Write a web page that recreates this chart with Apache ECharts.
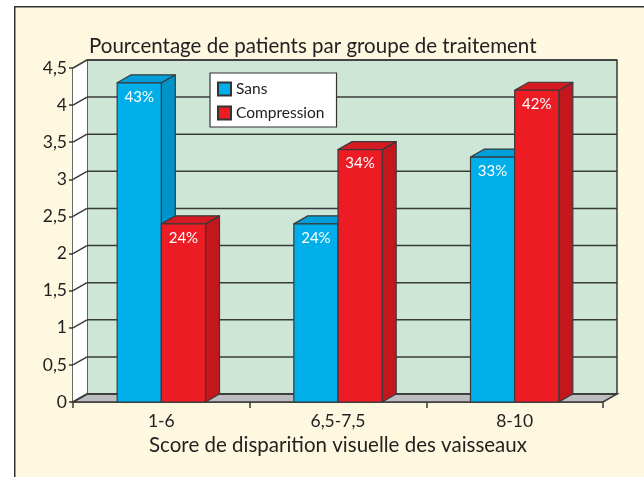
<!DOCTYPE html>
<html><head><meta charset="utf-8">
<script src="https://cdn.jsdelivr.net/npm/echarts@6/dist/echarts.min.js"></script>
<style>html,body{margin:0;padding:0;background:#fff;}#c{width:644px;height:477px;}</style>
</head><body><div id="c"></div>
<script>
const categories = ['1-6', '6,5-7,5', '8-10'];
const sansValues = [4.3, 2.4, 3.3];
const compressionValues = [2.4, 3.4, 4.2];
const sansLabels = ['43%', '24%', '33%'];
const compressionLabels = ['24%', '34%', '42%'];
const yTicks = [0, 0.5, 1, 1.5, 2, 2.5, 3, 3.5, 4, 4.5];
const titleText = 'Pourcentage de patients par groupe de traitement';
const xAxisTitle = 'Score de disparition visuelle des vaisseaux';

const DX = 14, DY = -8;
const FONT = 'Lato';
const LINE = '#3a3a3a';

function barRenderer(side, colors, labels) {
  return function (params, api) {
    const ci = api.value(0), v = api.value(1);
    const top = api.coord([ci, v]);
    const base = api.coord([ci, 0]);
    const band = api.size([1, 0])[0];
    const w = band * 0.25;
    const x1 = side < 0 ? top[0] - w : top[0];
    const x2 = x1 + w;
    const yt = top[1], yb = base[1];
    const st = { stroke: LINE, lineWidth: 1.2, lineJoin: 'round' };
    return {
      type: 'group',
      children: [
        { type: 'polygon', shape: { points: [[x2, yt], [x2 + DX, yt + DY], [x2 + DX, yb + DY], [x2, yb]] },
          style: Object.assign({ fill: colors.side }, st) },
        { type: 'polygon', shape: { points: [[x1, yt], [x1 + DX, yt + DY], [x2 + DX, yt + DY], [x2, yt]] },
          style: Object.assign({ fill: colors.top }, st) },
        { type: 'rect', shape: { x: x1, y: yt, width: w, height: yb - yt },
          style: Object.assign({ fill: colors.front }, st) },
        { type: 'text', x: x1 + w / 2, y: yt + 14,
          style: { text: labels[params.dataIndex], fill: '#fff', font: '15px ' + FONT,
                   align: 'center', verticalAlign: 'middle' } }
      ]
    };
  };
}

function frameRenderer(params, api) {
  const c0 = api.coord([0, 0]);
  const band = api.size([1, 0])[0];
  const xL = c0[0] - band / 2;
  const xR = xL + band * categories.length;
  const y0 = c0[1];
  const yMax = api.coord([0, yTicks[yTicks.length - 1]])[1];
  const children = [
    { type: 'rect', shape: { x: xL + DX, y: yMax + DY, width: xR - xL, height: y0 - yMax },
      style: { fill: '#cde6d6', stroke: LINE, lineWidth: 1.5 } },
    { type: 'polygon', shape: { points: [[xL, yMax], [xL + DX, yMax + DY], [xL + DX, y0 + DY], [xL, y0]] },
      style: { fill: '#ffffff', stroke: null } },
    { type: 'polygon', shape: { points: [[xL, y0], [xL + DX, y0 + DY], [xR + DX, y0 + DY], [xR, y0]] },
      style: { fill: '#bcbdc1', stroke: LINE, lineWidth: 1.5 } }
  ];
  yTicks.forEach(function (v) {
    const y = api.coord([0, v])[1];
    children.push({ type: 'line', shape: { x1: xL + DX, y1: y + DY, x2: xR + DX, y2: y + DY },
      style: { stroke: LINE, lineWidth: 1.5 } });
    children.push({ type: 'line', shape: { x1: xL, y1: y, x2: xL + DX, y2: y + DY },
      style: { stroke: LINE, lineWidth: 1.5 } });
  });
  return { type: 'group', children: children };
}

const chart = echarts.init(document.getElementById('c'), null, { renderer: 'canvas' });
const sansColors = { front: '#00aeea', side: '#0093c9', top: '#009fd9' };
const compColors = { front: '#ed1c24', side: '#c3171d', top: '#d61a21' };

chart.setOption({
  animation: false,
  backgroundColor: '#ffffff',
  graphic: [{
    type: 'rect', left: 14, top: 6, shape: { width: 700, height: 600 },
    style: { fill: '#fff8e1', stroke: '#333', lineWidth: 1.5 }, z: -10
  }],
  title: {
    text: titleText, left: 84, top: 31,
    textStyle: { fontFamily: FONT, fontSize: 20.5, fontWeight: 'normal', color: '#222' }
  },
  legend: {
    orient: 'vertical', left: 210, top: 73,
    backgroundColor: '#ffffff', borderColor: '#333', borderWidth: 1.2,
    padding: [8, 12, 6, 7], itemGap: 8, itemWidth: 13, itemHeight: 13,
    icon: 'rect',
    textStyle: { fontFamily: FONT, fontSize: 15.5, color: '#222' },
    data: ['Sans', 'Compression']
  },
  grid: { left: 73, right: 41, top: 68, bottom: 75 },
  xAxis: {
    type: 'category', data: categories,
    axisLine: { lineStyle: { color: LINE, width: 1.5 } },
    axisTick: { show: true, length: 6, alignWithLabel: false, lineStyle: { color: LINE, width: 1.5 } },
    axisLabel: { fontFamily: FONT, fontSize: 17.5, color: '#222', margin: 10 },
    name: xAxisTitle, nameLocation: 'middle', nameGap: 33,
    nameTextStyle: { fontFamily: FONT, fontSize: 20.5, color: '#222' },
    splitLine: { show: false }
  },
  yAxis: {
    type: 'value', min: 0, max: 4.5, interval: 0.5,
    axisLine: { show: true, lineStyle: { color: LINE, width: 1.5 } },
    axisTick: { show: true, length: 4, lineStyle: { color: LINE, width: 1.5 } },
    axisLabel: { fontFamily: FONT, fontSize: 17.5, color: '#222', margin: 6,
      formatter: function (v) { return String(v).replace('.', ','); } },
    splitLine: { show: false }
  },
  series: [
    { type: 'custom', name: 'frame', silent: true, clip: false, z: 1,
      renderItem: frameRenderer, data: [[0, 0]] },
    { type: 'custom', name: 'Sans', clip: false, z: 3,
      itemStyle: { color: sansColors.front, borderColor: '#333', borderWidth: 1 },
      renderItem: barRenderer(-1, sansColors, sansLabels),
      data: sansValues.map(function (v, i) { return [i, v]; }) },
    { type: 'custom', name: 'Compression', clip: false, z: 4,
      itemStyle: { color: compColors.front, borderColor: '#333', borderWidth: 1 },
      renderItem: barRenderer(1, compColors, compressionLabels),
      data: compressionValues.map(function (v, i) { return [i, v]; }) }
  ]
});
</script></body></html>
